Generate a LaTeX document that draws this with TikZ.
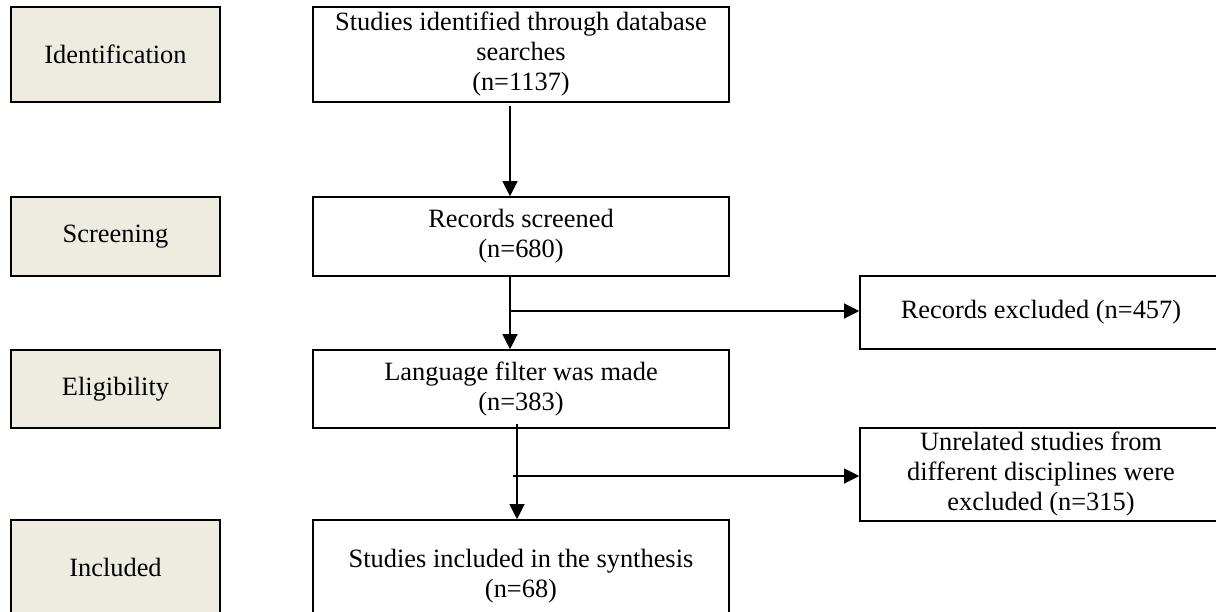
\documentclass[tikz,border=0pt]{standalone}
\usepackage{fontspec}
\setmainfont{Liberation Serif}
\usetikzlibrary{arrows.meta,positioning,calc}
\definecolor{stagefill}{RGB}{238,236,225}
\tikzset{
  boxfont/.style={font=\fontsize{13.2}{15}\selectfont},
  stagebox/.style={draw=black, line width=1pt, fill=stagefill, minimum width=104.5pt, inner sep=0pt, boxfont},
  mainbox/.style={draw=black, line width=0.8pt, minimum width=208pt, align=center, inner sep=0pt, boxfont},
  sidebox/.style={draw=black, line width=0.8pt, minimum width=181pt, align=center, inner sep=0pt, boxfont},
  arr/.style={line width=0.6pt, -{Triangle[length=7.5pt,width=7.5pt]}}
}
\begin{document}
\begin{tikzpicture}[x=0.5pt,y=-0.5pt]
\useasboundingbox (0,0) rectangle (1216,611);
\clip (0,0) rectangle (1216,611);

% stages on the left
\node[stagebox, minimum height=47.5pt] (ident) at (115.5,54.5) {Identification};
\node[stagebox, minimum height=39.5pt] (screen) at (115.5,236.5) {Screening};
\node[stagebox, minimum height=39pt] (elig) at (115.5,389) {Eligibility};
\node[stagebox, minimum height=47pt] (incl) at (115.5,567) {Included};

% main column
\node[mainbox, minimum height=47.5pt] (found) at (521,54.5) {Studies identified through database\\searches\\(n=1137)};
\node[mainbox, minimum height=39.5pt] (screened) at (521,236.5) {Records screened\\(n=680)};
\node[mainbox, minimum height=39pt] (lang) at (521,389) {Language filter was made\\(n=383)};
\node[mainbox, minimum height=56pt] (synth) at (521,576) {Studies included in the synthesis\\(n=68)};

% excluded boxes
\node[sidebox, minimum height=36.5pt] (excl) at (1041,312.5) {Records excluded (n=457)};
\node[sidebox, minimum height=46.5pt] (unrel) at (1041,474.5) {Unrelated studies from\\different disciplines were\\excluded (n=315)};

% free ends of the connectors
\coordinate (a1) at (510,106);
\coordinate (b1) at (510,311);
\coordinate (a3) at (517,424);
\coordinate (b2) at (513,476);

\draw[arr] (a1) -- (a1 |- screened.north);
\draw[arr] (a1 |- screened.south) -- (a1 |- lang.north);
\draw[arr] (b1) -- (b1 -| excl.west);
\draw[arr] (a3) -- (a3 |- synth.north);
\draw[arr] (b2) -- (b2 -| unrel.west);
\end{tikzpicture}
\end{document}
